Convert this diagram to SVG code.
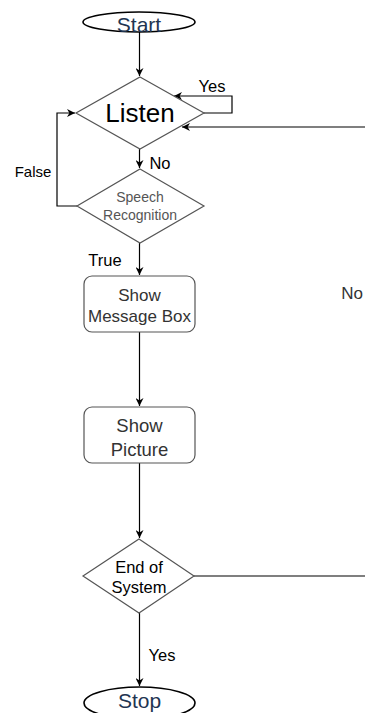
<svg xmlns="http://www.w3.org/2000/svg" width="365" height="713" viewBox="0 0 365 713">
<defs>
<marker id="arr" viewBox="0 0 10 10" refX="10" refY="5" markerWidth="8" markerHeight="8" markerUnits="userSpaceOnUse" orient="auto">
<path d="M0,0 L10,5 L0,10 L3,5 Z" fill="#000"/>
</marker>
<style>
.sh{fill:#fff;stroke:#555;stroke-width:1.2}
.term{fill:#fff;stroke:#000;stroke-width:1.6}
.ln{fill:none;stroke:#000;stroke-width:1.2}
text{font-family:"Liberation Sans",Arial,sans-serif;text-anchor:middle}
.tt{fill:#1f3552;font-size:21px}
.nt{fill:#333}
.lb{fill:#000;font-size:16.5px}
</style>
</defs>
<g id="connectors">
<path class="ln" d="M139.5,32 V76" marker-end="url(#arr)"/>
<path class="ln" d="M204,113 H232 V96 H174" marker-end="url(#arr)"/>
<path class="ln" d="M365,127 H182" marker-end="url(#arr)"/>
<path class="ln" d="M139.5,149 V168" marker-end="url(#arr)"/>
<path class="ln" d="M77,206 H57 V113 H75" marker-end="url(#arr)"/>
<path class="ln" d="M139.5,243 V275" marker-end="url(#arr)"/>
<path class="ln" d="M139.5,332 V406" marker-end="url(#arr)"/>
<path class="ln" d="M139.5,463 V538" marker-end="url(#arr)"/>
<path class="ln" d="M194,576 H365"/>
<path class="ln" d="M139.5,613 V686" marker-end="url(#arr)"/>
<text class="lb" x="212" y="92">Yes</text>
<text class="lb" x="160" y="169">No</text>
<text class="lb" x="33" y="177" style="font-size:15px">False</text>
<text class="lb" x="105" y="266">True</text>
<text class="lb" x="352" y="299" style="font-size:17px;fill:#333">No</text>
<text class="lb" x="162" y="661">Yes</text>
</g>
<g id="start">
<ellipse class="term" cx="139" cy="22" rx="56" ry="10"/>
<text class="tt" x="139" y="32">Start</text>
</g>
<g id="listen">
<polygon class="sh" points="140,77 204,113 140,149 76,113"/>
<text class="nt" x="140" y="122" style="font-size:26px;fill:#000">Listen</text>
</g>
<g id="speech">
<polygon class="sh" points="140,169 204,206 140,243 77,206"/>
<text class="nt" x="140" y="202" style="font-size:14px;fill:#555">Speech</text>
<text class="nt" x="140" y="220" style="font-size:14px;fill:#555">Recognition</text>
</g>
<g id="msgbox">
<rect class="sh" x="84" y="276" width="111" height="56" rx="8"/>
<text class="nt" x="139.5" y="301" style="font-size:17px">Show</text>
<text class="nt" x="139.5" y="322" style="font-size:17px">Message Box</text>
</g>
<g id="picture">
<rect class="sh" x="84" y="407" width="111" height="56" rx="8"/>
<text class="nt" x="139.5" y="432" style="font-size:18.5px">Show</text>
<text class="nt" x="139.5" y="456" style="font-size:18.5px">Picture</text>
</g>
<g id="endsys">
<polygon class="sh" points="139,539 194,576 139,613 83,576"/>
<text class="nt" x="139" y="573" style="font-size:16.5px;fill:#000">End of</text>
<text class="nt" x="139" y="593" style="font-size:16.5px;fill:#000">System</text>
</g>
<g id="stop">
<ellipse class="term" cx="139.5" cy="703" rx="55.5" ry="16"/>
<text class="tt" x="139.5" y="708">Stop</text>
</g>
</svg>
